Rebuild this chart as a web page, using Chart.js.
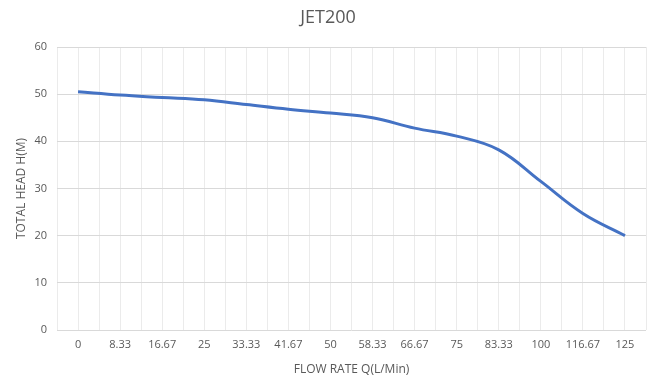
<!DOCTYPE html>
<html>
<head>
<meta charset="utf-8">
<script src="https://cdn.jsdelivr.net/npm/chart.js@4/dist/chart.umd.min.js"></script>
<style>
  html, body { margin: 0; padding: 0; background: #ffffff; }
  #wrap { width: 659px; height: 384px; position: relative; }
</style>
</head>
<body>
<div id="wrap"><canvas id="pump-chart"></canvas></div>
<script>
// JET200 pump curve - flow rate vs total head

// Flow rate categories (L/Min), shown as evenly spaced labels
const flowLabels = ['0', '8.33', '16.67', '25', '33.33', '41.67', '50', '58.33', '66.67', '75', '83.33', '100', '116.67', '125'];

// Total head (m) at each category
const headValues = [50.5, 49.8, 49.3, 48.8, 47.8, 46.8, 46, 45, 42.8, 41.1, 38.2, 31.5, 24.7, 20];

// Y axis ticks
const yTicks = [0, 10, 20, 30, 40, 50, 60];

const TEXT_GREY = '#595959';
const FONT = "'Open Sans', 'Noto Sans', sans-serif";

function buildPoints() {
    return headValues.map((v, i) => ({ x: i, y: v }));
}

function initPumpChart() {
    const ctx = document.getElementById('pump-chart').getContext('2d');

    new Chart(ctx, {
        type: 'line',
        data: {
            datasets: [{
                label: 'JET200',
                data: buildPoints(),
                borderColor: '#4472C4',
                backgroundColor: '#4472C4',
                borderWidth: 3,
                pointRadius: 0,
                fill: false,
                tension: 0.4,
                cubicInterpolationMode: 'default'
            }]
        },
        options: {
            responsive: true,
            maintainAspectRatio: false,
            animation: false,
            layout: {
                padding: { left: 10, right: 13, top: 0, bottom: 4 }
            },
            plugins: {
                legend: { display: false },
                tooltip: { enabled: false },
                title: {
                    display: true,
                    text: 'JET200',
                    color: TEXT_GREY,
                    font: { family: FONT, size: 18, weight: 'normal', lineHeight: 1.2 },
                    padding: { top: 7, bottom: 18.4 }
                }
            },
            scales: {
                x: {
                    type: 'linear',
                    min: -0.5,
                    max: flowLabels.length - 0.5,
                    grid: { color: '#ebebeb', drawTicks: false, lineWidth: 1 },
                    border: { display: false },
                    ticks: {
                        stepSize: 0.5,
                        autoSkip: false,
                        maxRotation: 0,
                        padding: 8,
                        color: TEXT_GREY,
                        font: { family: FONT, size: 11 }
                        ,
                        callback: function(value) {
                            return Number.isInteger(value) ? flowLabels[value] : '';
                        }
                    },
                    title: {
                        display: true,
                        text: 'FLOW RATE Q(L/Min)',
                        color: TEXT_GREY,
                        font: { family: FONT, size: 12 },
                        padding: { top: 0, bottom: 3 }
                    },
                    afterFit: function(axis) { axis.height = 50; }
                },
                y: {
                    min: 0,
                    max: 60,
                    grid: { color: '#d9d9d9', drawTicks: false, lineWidth: 1 },
                    border: { display: false },
                    afterBuildTicks: function(axis) {
                        axis.ticks = yTicks.map(v => ({ value: v }));
                    },
                    ticks: {
                        padding: 10,
                        color: TEXT_GREY,
                        font: { family: FONT, size: 11 }
                    },
                    title: {
                        display: true,
                        text: 'TOTAL HEAD H(M)',
                        color: TEXT_GREY,
                        font: { family: FONT, size: 12 },
                        padding: { top: 4, bottom: 0 }
                    },
                    afterFit: function(axis) { axis.width = 47; }
                }
            }
        }
    });
}

document.addEventListener('DOMContentLoaded', initPumpChart);
</script>
</body>
</html>
